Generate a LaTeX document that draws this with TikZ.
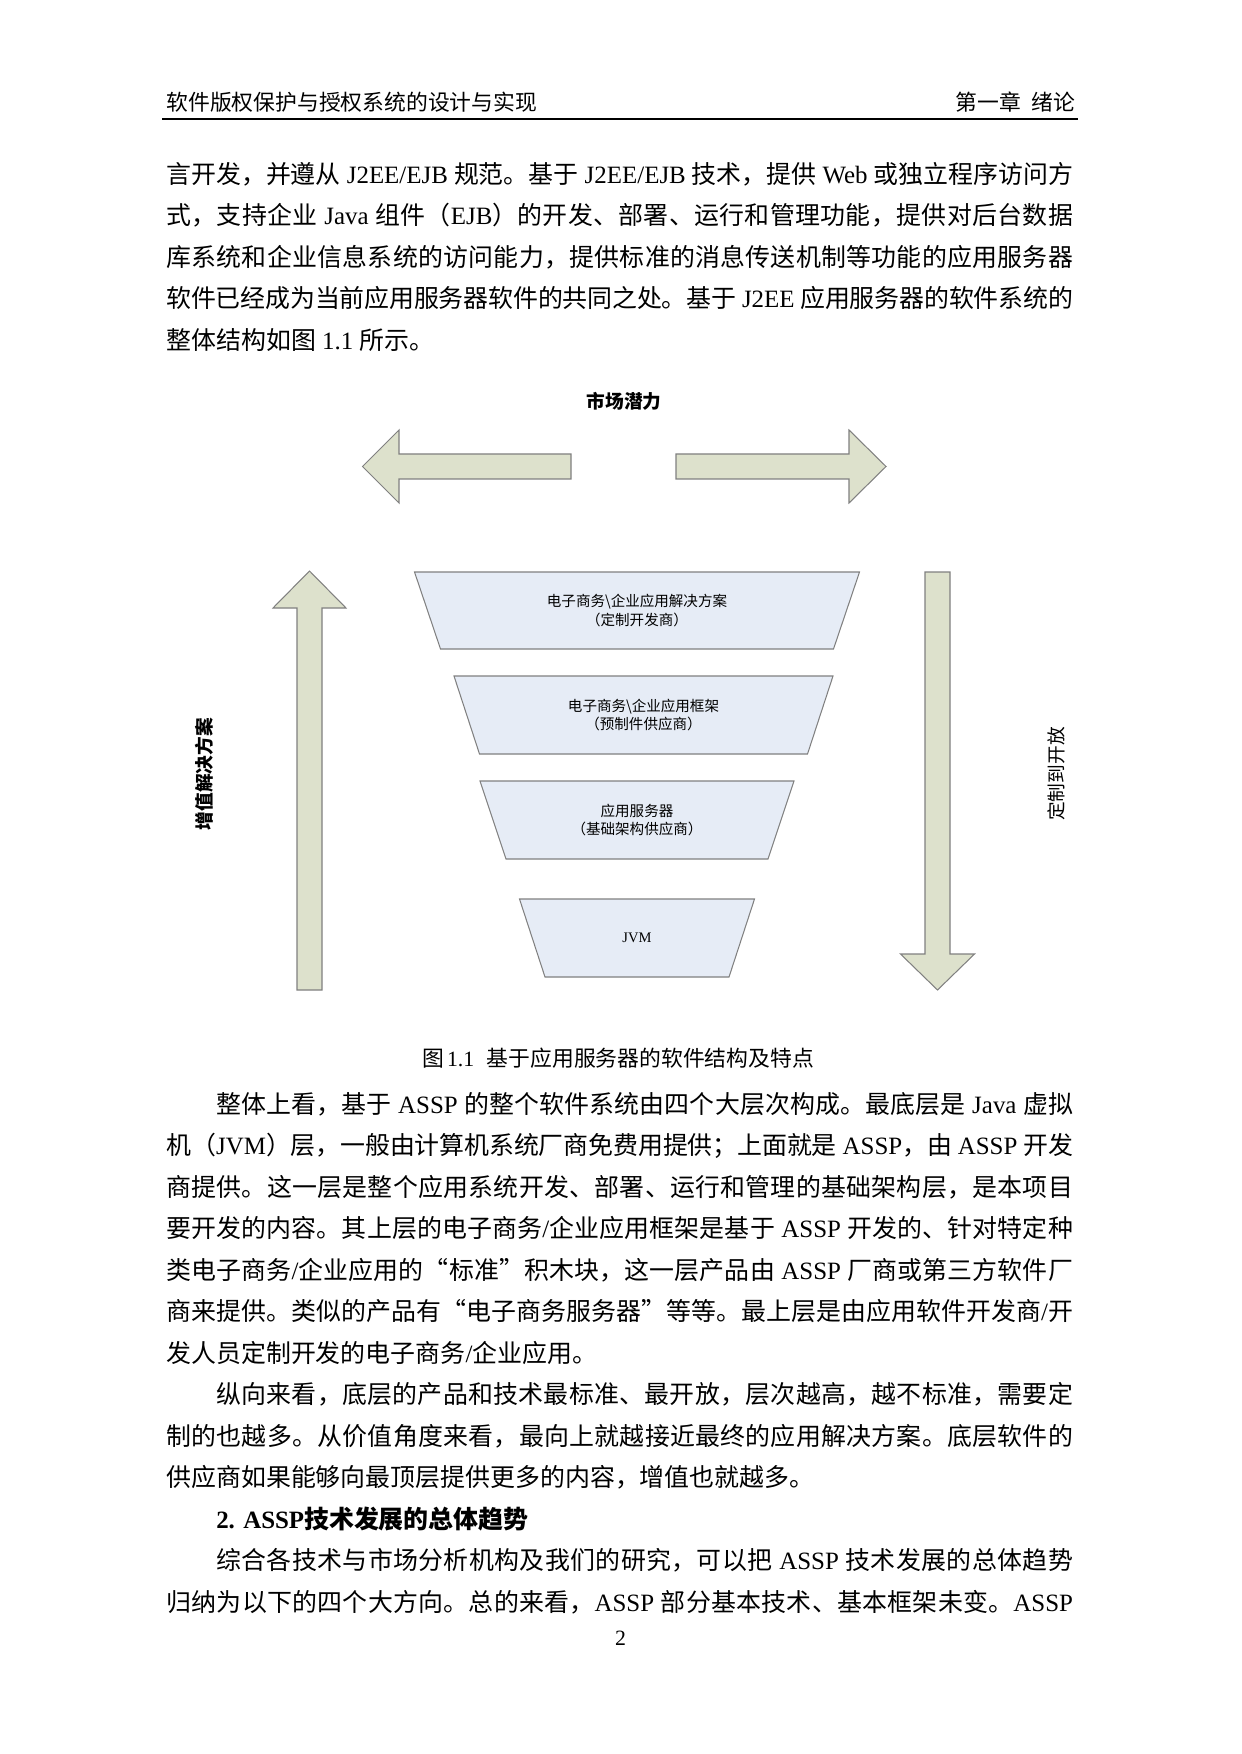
\documentclass[tikz,border=0pt]{standalone}
\usepackage{fontspec}
\setmainfont{Noto Sans CJK SC}
\newfontfamily\latin{Liberation Serif}
\newcommand\LS[1]{{\latin\space#1\space}}
\newcommand\LN[1]{{\latin#1}}
\XeTeXinterchartokenstate=1
\newXeTeXintercharclass\CJKcls
\newcount\cjkc
\cjkc="4E00
\loop \XeTeXcharclass\cjkc=\CJKcls \ifnum\cjkc<"9FFF \advance\cjkc by 1 \repeat
\cjkc="3000
\loop \XeTeXcharclass\cjkc=\CJKcls \ifnum\cjkc<"303F \advance\cjkc by 1 \repeat
\cjkc="FF00
\loop \XeTeXcharclass\cjkc=\CJKcls \ifnum\cjkc<"FFEF \advance\cjkc by 1 \repeat
\XeTeXcharclass"201C=\CJKcls
\XeTeXcharclass"201D=\CJKcls
\XeTeXinterchartoks\CJKcls\CJKcls={\hskip 0pt plus 1pt minus 0.3pt\relax}
\newcommand\jl[1]{\hbox to 436.5pt{#1}}
\definecolor{trapfill}{RGB}{230,236,246}
\definecolor{arrfill}{RGB}{221,225,204}
\definecolor{edgegrey}{RGB}{128,128,128}
\begin{document}
\begin{tikzpicture}[x=0.169218mm,y=-0.169218mm,
  body/.style={inner sep=0pt,anchor=base west,font=\fontsize{12pt}{14pt}\selectfont},
  hdr/.style={inner sep=0pt,font=\fontsize{10.5pt}{12pt}\selectfont},
  trap/.style={draw=edgegrey,fill=trapfill,line width=0.5pt},
  blockarrow/.style={draw=edgegrey,fill=arrfill,line width=0.5pt},
  traptext/.style={inner sep=0pt,align=center,font=\fontsize{7pt}{9.1pt}\selectfont},
  lab/.style={inner sep=0pt,font=\fontsize{9pt}{11pt}\selectfont}]
\fill[white] (0,0) rectangle (1241,1754);
\useasboundingbox (0,0) rectangle (1241,1754);

% header
\node[hdr,anchor=base west] (hl) at (166,111) {软件版权保护与授权系统的设计与实现};
\node[hdr,anchor=base east] (hr) at (1076,111) {第一章\hspace{0.5em}绪论};
\coordinate (rulel) at (162,119);
\coordinate (ruler) at (1078,119);
\draw[line width=1pt] (rulel) -- (ruler);

% paragraph 1
\node[body] (p1a) at (166,183.5) {\jl{言开发，并遵从\LS{J2EE/EJB}规范。基于\LS{J2EE/EJB}技术，提供\LS{Web}或独立程序访问方}};
\node[body] (p1b) at (166,225) {\jl{式，支持企业\LS{Java}组件（\LN{EJB}）的开发、部署、运行和管理功能，提供对后台数据}};
\node[body] (p1c) at (166,266.5) {\jl{库系统和企业信息系统的访问能力，提供标准的消息传送机制等功能的应用服务器}};
\node[body] (p1d) at (166,308) {\jl{软件已经成为当前应用服务器软件的共同之处。基于\LS{J2EE}应用服务器的软件系统的}};
\node[body] (p1e) at (166,349.5) {整体结构如图\LS{1.1}所示。};

% figure
\node[lab,font=\fontsize{9pt}{11pt}\selectfont\bfseries] (top) at (624,401) {市场潜力};
\draw[blockarrow] (362.5,466.5) -- (399,430) -- (399,454) -- (571,454) -- (571,479) -- (399,479) -- (399,503) -- cycle;
\draw[blockarrow] (886,466.5) -- (849,430) -- (849,454) -- (676,454) -- (676,479) -- (849,479) -- (849,503) -- cycle;
\draw[blockarrow] (309.5,571) -- (346,608) -- (322,608) -- (322,990) -- (297,990) -- (297,608) -- (273,608) -- cycle;
\draw[blockarrow] (937.5,990) -- (974.5,954) -- (950,954) -- (950,572) -- (925,572) -- (925,954) -- (900.5,954) -- cycle;
\node[lab,rotate=90,font=\fontsize{9pt}{11pt}\selectfont\bfseries] (left) at (204,774) {增值解决方案};
\node[lab,rotate=90] (right) at (1056,774) {定制到开放};

\draw[trap] (414.5,572) -- (859.5,572) -- (833.5,649) -- (440.5,649) -- cycle;
\draw[trap] (454,676) -- (833,676) -- (807.5,754) -- (479.5,754) -- cycle;
\draw[trap] (480,781) -- (794,781) -- (768,859) -- (506,859) -- cycle;
\draw[trap] (519.5,899) -- (754.5,899) -- (729,977) -- (545,977) -- cycle;
\node[traptext] (t1) at (637,610.5) {电子商务\textbackslash 企业应用解决方案\\（定制开发商）};
\node[traptext] (t2) at (643.5,715) {电子商务\textbackslash 企业应用框架\\（预制件供应商）};
\node[traptext] (t3) at (637,820) {应用服务器\\（基础架构供应商）};
\node[traptext] (t4) at (637,938) {\LN{JVM}};

% caption
\node[inner sep=0pt,anchor=base,font=\fontsize{10.5pt}{12pt}\selectfont] (cap) at (618,1066)
  {图\hskip1.5pt{\latin 1.1}\hskip6pt 基于应用服务器的软件结构及特点};

% paragraph 2
\node[body] (p2a) at (166,1113) {\jl{\hskip24pt 整体上看，基于\LS{ASSP}的整个软件系统由四个大层次构成。最底层是\LS{Java}虚拟}};
\node[body] (p2b) at (166,1154.5) {\jl{机（\LN{JVM}）层，一般由计算机系统厂商免费用提供；上面就是{\latin\space ASSP}，由\LS{ASSP}开发}};
\node[body] (p2c) at (166,1196) {\jl{商提供。这一层是整个应用系统开发、部署、运行和管理的基础架构层，是本项目}};
\node[body] (p2d) at (166,1237.5) {\jl{要开发的内容。其上层的电子商务\LN{/}企业应用框架是基于\LS{ASSP}开发的、针对特定种}};
\node[body] (p2e) at (166,1279) {\jl{类电子商务\LN{/}企业应用的“标准”积木块，这一层产品由\LS{ASSP}厂商或第三方软件厂}};
\node[body] (p2f) at (166,1320.5) {\jl{商来提供。类似的产品有“电子商务服务器”等等。最上层是由应用软件开发商\LN{/}开}};
\node[body] (p2g) at (166,1362) {发人员定制开发的电子商务\LN{/}企业应用。};

% paragraph 3
\node[body] (p3a) at (166,1403.5) {\jl{\hskip24pt 纵向来看，底层的产品和技术最标准、最开放，层次越高，越不标准，需要定}};
\node[body] (p3b) at (166,1445) {\jl{制的也越多。从价值角度来看，最向上就越接近最终的应用解决方案。底层软件的}};
\node[body] (p3c) at (166,1486.5) {供应商如果能够向最顶层提供更多的内容，增值也就越多。};

% heading
\node[body] (h2) at (166,1528) {\hskip24pt{\bfseries\latin 2. ASSP}{\bfseries 技术发展的总体趋势}};

% paragraph 4
\node[body] (p4a) at (166,1569.5) {\jl{\hskip24pt 综合各技术与市场分析机构及我们的研究，可以把\LS{ASSP}技术发展的总体趋势}};
\node[body] (p4b) at (166,1611) {\jl{归纳为以下的四个大方向。总的来看，{\latin ASSP\space}部分基本技术、基本框架未变。{\latin ASSP}}};

% page number
\node[hdr,anchor=base] (pg) at (620.5,1645.5) {\LN{2}};
\end{tikzpicture}
\end{document}
